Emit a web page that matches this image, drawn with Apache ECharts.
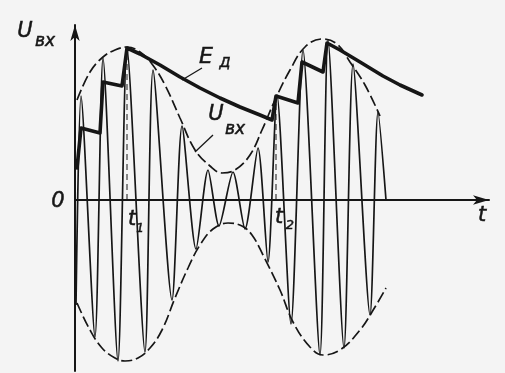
<!DOCTYPE html>
<html>
<head>
<meta charset="utf-8">
<script src="https://cdn.jsdelivr.net/npm/echarts@6/dist/echarts.min.js"></script>
<style>
  html, body { margin: 0; padding: 0; background: #f4f4f4; }
  #chart { width: 505px; height: 373px; }
</style>
</head>
<body>
<div id="chart"></div>
<script>
// Amplitude-modulated input voltage U_вх and detector output E_д (arbitrary units)

// carrier extrema of U_вх
const carrierT = [1, 6, 20, 28, 43, 52, 70, 78, 97, 107, 121, 133, 144, 158, 170, 183, 193, 202, 216, 228, 245, 253, 269, 278, 295, 303, 311];
const carrierU = [-105, 104, -137, 142, -161, 152, -152, 130, -100, 74, -49, 30, -26, 28, -29, 52, -62, 105, -124, 150, -155, 160, -148, 136, -115, 88, 0];

// upper and lower envelope (dashed)
const upperT = [2, 15, 28, 40, 52, 65, 77, 90, 105, 120, 135, 147, 160, 175, 187, 200, 215, 230, 247, 262, 275, 290, 305];
const upperU = [100, 128, 143, 150, 153, 148, 136, 115, 82, 50, 34, 27, 30, 45, 70, 100, 130, 153, 161, 156, 138, 115, 84];
const lowerT = [2, 15, 27, 40, 50, 63, 75, 87, 100, 113, 125, 138, 153, 167, 177, 188, 205, 218, 235, 248, 265, 285, 300, 311];
const lowerU = [-103, -130, -148, -158, -161, -158, -148, -130, -98, -68, -45, -29, -23, -26, -35, -55, -90, -122, -147, -155, -150, -130, -107, -88];

// detector output E_д: charge steps and discharge curves
const detT = [2, 6, 25, 28, 47, 52, 65, 85, 105, 125, 145, 165, 185, 197, 201, 223, 227, 248, 252, 265, 285, 308, 325, 347];
const detU = [32, 72, 67, 118, 114, 152, 146, 135, 123, 112, 102, 93, 85, 80, 104, 97, 138, 128, 157, 150, 138, 124, 115, 105];

// moments t1 and t2 and the detector level there
const markT = [52, 201];
const markU = [152, 104];

// leader lines for the curve captions
const leaderE = [[127, 132], [107, 120]];
const leaderU = [[138, 65], [120, 48]];

const zip = (xs, ys) => xs.map((x, i) => [x, ys[i]]);
const ink = '#161616';

const chart = echarts.init(document.getElementById('chart'), null, { renderer: 'canvas' });

const plain = (data, style, extra) => Object.assign({
  type: 'line', data, showSymbol: false, silent: true, animation: false,
  lineStyle: Object.assign({ color: ink, width: 1.5 }, style)
}, extra || {});

const series = [
  plain(zip(upperT, upperU), { type: [11, 4], width: 1.7 }, { smooth: 0.4 }),
  plain(zip(lowerT, lowerU), { type: [11, 4], width: 1.7 }, { smooth: 0.4 }),
  plain(zip(carrierT, carrierU), { width: 1.7 }, { smooth: 0.25 }),
  plain(zip(detT, detU), { width: 3.6, join: 'round', cap: 'round' }),
  plain(leaderE, { width: 1.3 }),
  plain(leaderU, { width: 1.3 })
];
markT.forEach((t, i) => {
  series.push(plain([[t, 0], [t, markU[i]]], { type: [6, 4], width: 1 }));
});

const txt = (s, x, y, size) => ({
  type: 'text', x, y, silent: true,
  style: {
    text: s, fill: ink, stroke: ink, lineWidth: 0.5,
    font: 'italic ' + size + 'px "DejaVu Sans"', align: 'center', verticalAlign: 'middle'
  }
});

chart.setOption({
  backgroundColor: '#f4f4f4',
  animation: false,
  grid: { left: 75, right: 16, top: 25, bottom: 2 },
  xAxis: {
    type: 'value', min: 0, max: 414,
    axisLine: { show: true, onZero: true, symbol: ['none', 'arrow'], symbolSize: [7, 16], lineStyle: { color: ink, width: 2 } },
    axisTick: { show: false }, axisLabel: { show: false }, splitLine: { show: false }
  },
  yAxis: {
    type: 'value', min: -171, max: 175,
    axisLine: { show: true, onZero: false, symbol: ['none', 'arrow'], symbolSize: [7, 16], lineStyle: { color: ink, width: 2 } },
    axisTick: { show: false }, axisLabel: { show: false }, splitLine: { show: false }
  },
  series,
  graphic: [
    txt('U', 25, 32, 21), txt('вх', 45, 42, 17),
    txt('E', 206, 57, 22), txt('Д', 225, 63, 14),
    txt('U', 216, 115, 21), txt('вх', 235, 130, 17),
    txt('0', 58, 202, 21),
    txt('t', 132, 220, 21), txt('1', 140, 229, 12),
    txt('t', 279, 218, 21), txt('2', 290, 226, 13),
    txt('t', 482, 216, 21)
  ]
});
</script>
</body>
</html>
